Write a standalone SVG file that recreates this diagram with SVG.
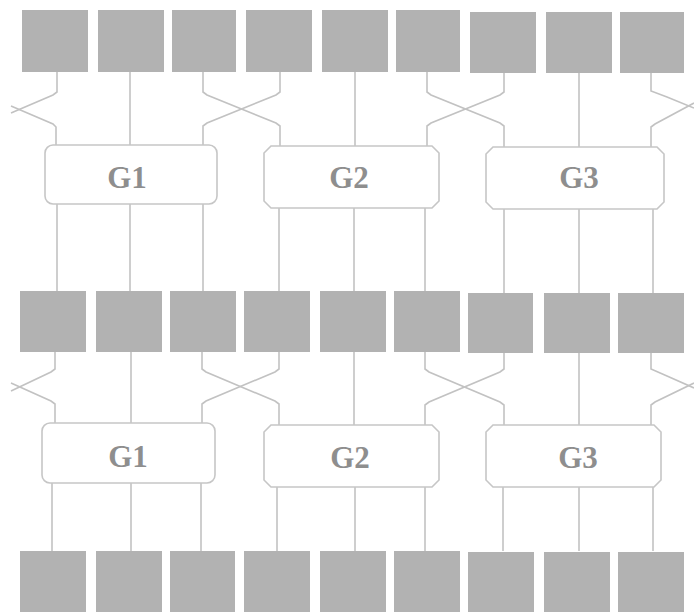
<svg xmlns="http://www.w3.org/2000/svg" width="694" height="612" viewBox="0 0 694 612">
<style>
.sq{fill:#b2b2b2}
.g{fill:#ffffff;stroke:#c6c6c6;stroke-width:1.6}
.lbl{font-family:"Liberation Serif","Times New Roman",serif;font-weight:bold;font-size:31px;fill:#8e8e8e;text-anchor:middle}
#connectors path{fill:none;stroke:#c2c2c2;stroke-width:1.6}
</style>
<rect width="694" height="612" fill="#ffffff"/>
<g id="connectors">
<path d="M57,72 V92 L53,95 L11,113"/>
<path d="M11,106 L53,124 L56,127 V145"/>
<path d="M130,72 V145"/>
<path d="M203,72 V92 L207,95 L276,123 L280,126 V146"/>
<path d="M280,72 V92 L276,95 L207,123 L203,126 V145"/>
<path d="M355,72 V146"/>
<path d="M427,72 V92 L431,95 L500,123 L504,126 V147"/>
<path d="M504,73 V92 L500,95 L431,123 L427,126 V146"/>
<path d="M579,73 V147"/>
<path d="M651,73 V91 L667,97 L694,108"/>
<path d="M694,103 L655,124 L651,127 V147"/>
<path d="M57,204 V291"/>
<path d="M130,204 V291"/>
<path d="M203,204 V291"/>
<path d="M279,208 V291"/>
<path d="M354,208 V291"/>
<path d="M425,208 V291"/>
<path d="M504,209 V293"/>
<path d="M579,209 V293"/>
<path d="M653,209 V293"/>
<path d="M55,352 V369 L51,372 L11,391"/>
<path d="M11,383 L51,401 L55,404 V423"/>
<path d="M131,352 V423"/>
<path d="M202,352 V369 L206,372 L275,401 L279,404 V425"/>
<path d="M279,352 V369 L275,372 L206,401 L202,404 V423"/>
<path d="M354,352 V425"/>
<path d="M425,352 V369 L429,372 L500,402 L504,405 V425"/>
<path d="M504,353 V369 L500,372 L429,402 L425,405 V425"/>
<path d="M579,353 V425"/>
<path d="M651,353 V369 L667,376 L694,388"/>
<path d="M694,383 L655,402 L651,405 V425"/>
<path d="M52,483 V551"/>
<path d="M131,483 V551"/>
<path d="M201,483 V551"/>
<path d="M277,487 V551"/>
<path d="M355,487 V551"/>
<path d="M425,487 V551"/>
<path d="M503,487 V551"/>
<path d="M579,487 V551"/>
<path d="M653,487 V551"/>
</g>
<g id="top-row">
<rect id="t1" class="sq" x="22" y="10" width="66" height="62"/>
<rect id="t2" class="sq" x="98" y="10" width="66" height="62"/>
<rect id="t3" class="sq" x="172" y="10" width="64" height="62"/>
<rect id="t4" class="sq" x="246" y="10" width="66" height="62"/>
<rect id="t5" class="sq" x="322" y="10" width="66" height="62"/>
<rect id="t6" class="sq" x="396" y="10" width="64" height="62"/>
<rect id="t7" class="sq" x="470" y="12" width="66" height="61"/>
<rect id="t8" class="sq" x="546" y="12" width="66" height="61"/>
<rect id="t9" class="sq" x="620" y="12" width="64" height="61"/>
</g>
<g id="mid-row">
<rect id="m1" class="sq" x="20" y="291" width="66" height="61"/>
<rect id="m2" class="sq" x="96" y="291" width="66" height="61"/>
<rect id="m3" class="sq" x="170" y="291" width="66" height="61"/>
<rect id="m4" class="sq" x="244" y="291" width="66" height="61"/>
<rect id="m5" class="sq" x="320" y="291" width="66" height="61"/>
<rect id="m6" class="sq" x="394" y="291" width="66" height="61"/>
<rect id="m7" class="sq" x="468" y="293" width="65" height="60"/>
<rect id="m8" class="sq" x="544" y="293" width="66" height="60"/>
<rect id="m9" class="sq" x="618" y="293" width="66" height="60"/>
</g>
<g id="bottom-row">
<rect id="b1" class="sq" x="20" y="551" width="66" height="61"/>
<rect id="b2" class="sq" x="96" y="551" width="66" height="61"/>
<rect id="b3" class="sq" x="170" y="551" width="65" height="61"/>
<rect id="b4" class="sq" x="244" y="551" width="66" height="61"/>
<rect id="b5" class="sq" x="320" y="551" width="66" height="61"/>
<rect id="b6" class="sq" x="394" y="551" width="66" height="61"/>
<rect id="b7" class="sq" x="468" y="552" width="66" height="60"/>
<rect id="b8" class="sq" x="544" y="552" width="66" height="60"/>
<rect id="b9" class="sq" x="618" y="552" width="66" height="60"/>
</g>
<g id="G1-a">
<rect class="g" x="45" y="145" width="172" height="59" rx="8"/>
<text class="lbl" x="127" y="188">G1</text>
</g>
<g id="G2-a">
<path class="g" d="M271,146 H432 L439,153 V201 L432,208 H271 L264,201 V153 Z"/>
<text class="lbl" x="349" y="188">G2</text>
</g>
<g id="G3-a">
<path class="g" d="M493,147 H657 L664,154 V202 L657,209 H493 L486,202 V154 Z"/>
<text class="lbl" x="579" y="188">G3</text>
</g>
<g id="G1-b">
<rect class="g" x="42" y="423" width="173" height="60" rx="8"/>
<text class="lbl" x="128" y="467">G1</text>
</g>
<g id="G2-b">
<path class="g" d="M271,425 H432 L439,432 V480 L432,487 H271 L264,480 V432 Z"/>
<text class="lbl" x="350" y="468">G2</text>
</g>
<g id="G3-b">
<path class="g" d="M493,425 H654 L661,432 V480 L654,487 H493 L486,480 V432 Z"/>
<text class="lbl" x="578" y="468">G3</text>
</g>
</svg>
